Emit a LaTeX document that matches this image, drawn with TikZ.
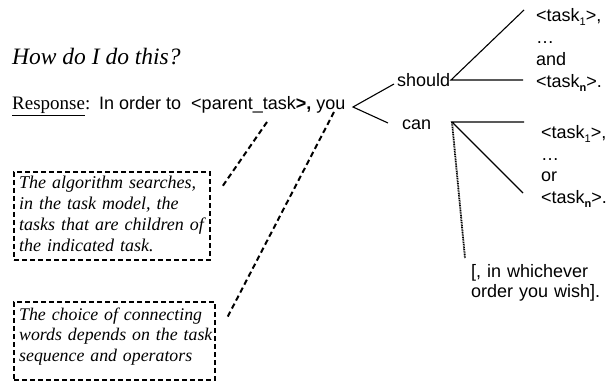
\documentclass[tikz,border=0pt]{standalone}
\usepackage{fontspec}
\usetikzlibrary{fit}
\setmainfont{Liberation Serif}
\newfontfamily\arialf{Liberation Sans}
\newcommand\tsub[1]{\raisebox{-0.2em}{\fontsize{11}{11}\selectfont #1}}
\begin{document}
\begin{tikzpicture}[x=1pt,y=-1pt,
  sans/.style={font=\arialf\fontsize{18}{22}\selectfont, inner sep=0pt, anchor=base west},
  serif/.style={inner sep=0pt, anchor=base west},
  notetext/.style={inner sep=0pt, anchor=base west, align=left, text width=240pt,
    font=\itshape\fontsize{18}{21}\selectfont},
  notebox/.style={draw, dash pattern=on 5pt off 3pt, line width=1.7pt, inner sep=0pt},
  link/.style={dash pattern=on 5.5pt off 3.5pt, line width=2pt},
  branch/.style={line width=1.1pt},
  dotline/.style={dash pattern=on 1pt off 0.7pt, line width=1.8pt}]
\useasboundingbox (0,0) rectangle (613,382);

% title and response line
\node[serif, font=\itshape\fontsize{23.5}{26}\selectfont] (title) at (12,65) {How do I do this?};
\node[serif, font=\fontsize{19}{22}\selectfont] (resp) at (12,110) {\underline{Response}:};
\node[sans] (order) at (99,110) {In order to\ \ {<}parent\_task\textbf{>,} you};

% branch words
\node[sans] (should) at (397,87) {should};
\node[sans] (can) at (402,130) {can};

% task lists
\node[sans, text width=75pt, align=left, font=\arialf\fontsize{18}{22}\selectfont] (andlist) at (536,22)
  {{<}task\tsub{1}>,\\ \ldots\\ and\\ {<}task\tsub{\textbf{n}}>.};
\node[sans, text width=75pt, align=left, font=\arialf\fontsize{18}{21.5}\selectfont] (orlist) at (541,139)
  {{<}task\tsub{1}>,\\ \ldots\\ or\\ {<}task\tsub{\textbf{n}}>.};
\node[sans, text width=140pt, align=left, font=\arialf\fontsize{18}{20}\selectfont] (order2) at (471,277)
  {[, in whichever\\ order you wish].};

% notes
\node[notetext] (note1) at (19,189)
  {The algorithm searches,\\ in the task model, the\\ tasks that are children of\\ the indicated task.};
\node[notebox, fit={(14,172) (210,260)}] (box1) {};
\node[notetext, font=\itshape\fontsize{17.8}{20.5}\selectfont] (note2) at (19,320)
  {The choice of connecting\\ words depends on the task\\ sequence and operators};
\node[notebox, fit={(14,302) (215,380)}] (box2) {};

% coordinates
\coordinate (youv) at (353,107);
\coordinate (shin) at (394,84);
\coordinate (canin) at (388,123);
\coordinate (shv) at (451,80);
\coordinate (t1top) at (524,10);
\coordinate (t1bot) at (523,80);
\coordinate (canv) at (452,122);
\coordinate (t2top) at (524,122);
\coordinate (t2bot) at (523,193);
\coordinate (wish) at (465,258);
\coordinate (d1s) at (267,122);
\coordinate (d1e) at (222,187);
\coordinate (d2s) at (334,112);
\coordinate (d2e) at (227,318);

% connectors
\draw[branch] (shin) -- (youv) -- (canin);
\draw[branch] (t1top) -- (shv) -- (t1bot);
\draw[branch] (t2top) -- (canv) -- (t2bot);
\draw[dotline] (canv) -- (wish);
\draw[link] (d1s) -- (d1e);
\draw[link] (d2s) -- (d2e);
\end{tikzpicture}
\end{document}
